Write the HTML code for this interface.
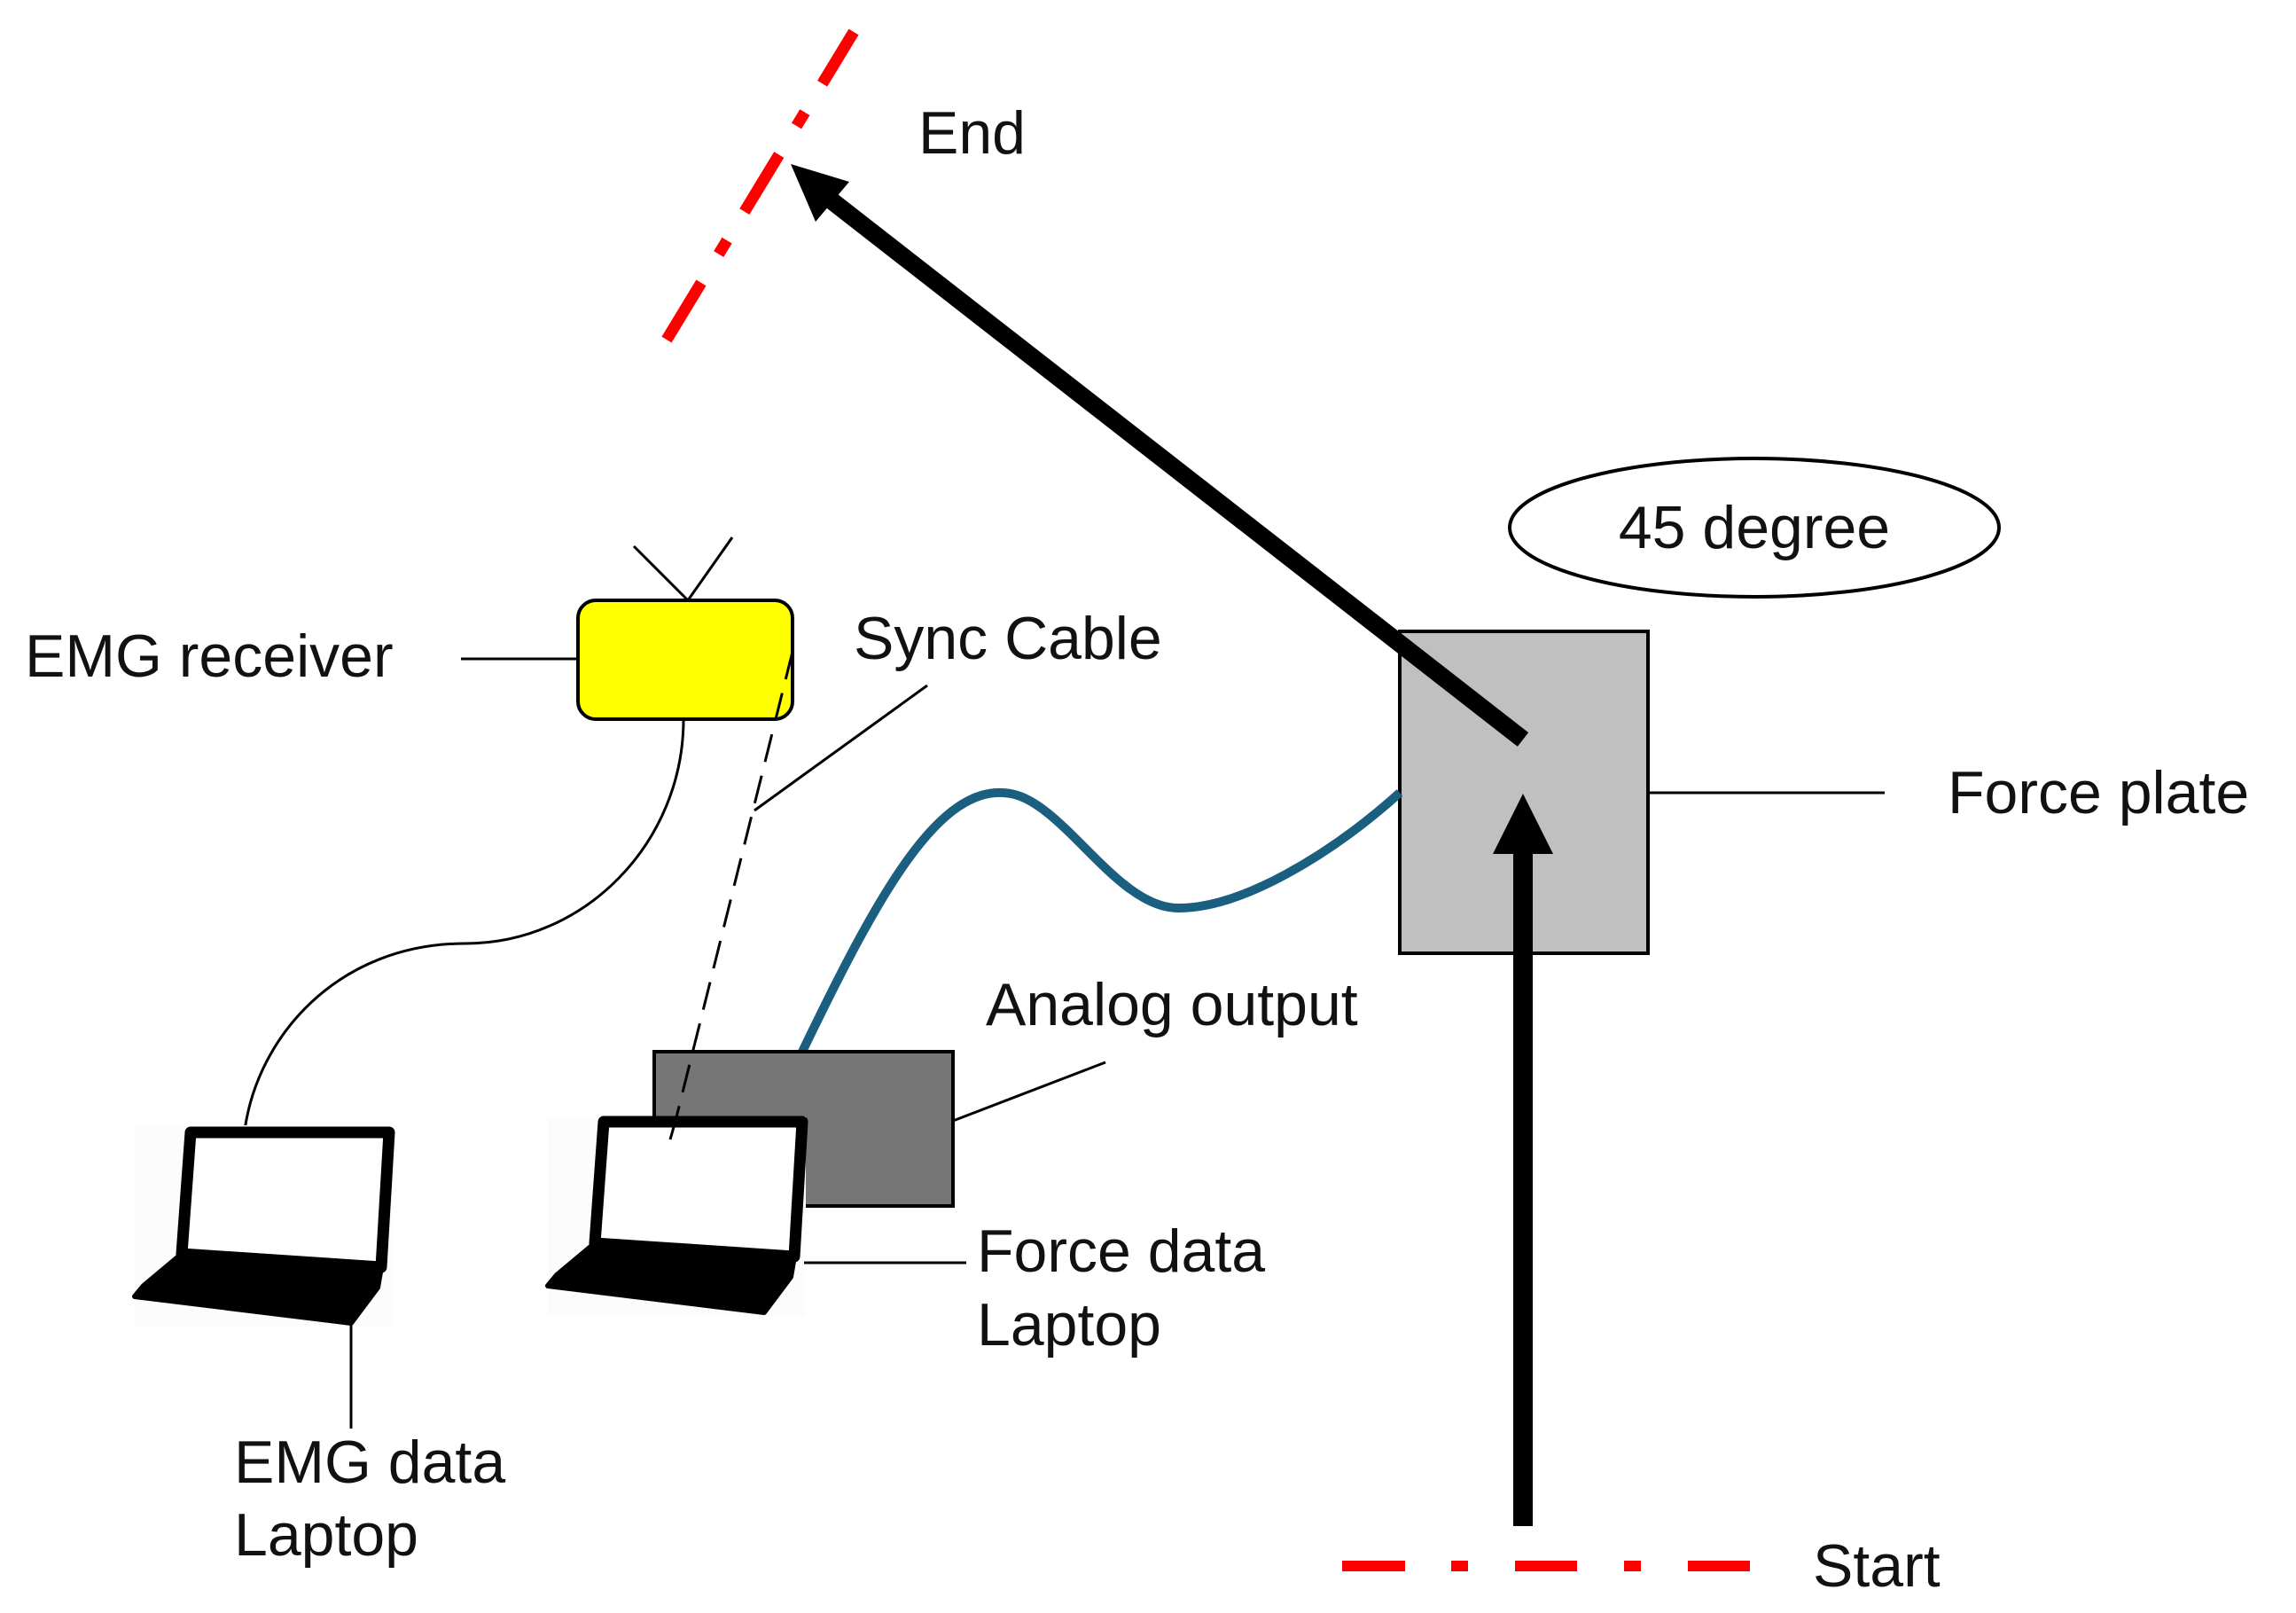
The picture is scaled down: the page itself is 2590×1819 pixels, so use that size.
<!DOCTYPE html>
<html><head><meta charset="utf-8"><style>
html,body{margin:0;padding:0;background:#fff;}
svg{display:block;}
text{font-family:"Liberation Sans","Noto Sans CJK JP",sans-serif;font-size:68px;fill:#111;}
</style></head><body>
<svg width="2590" height="1819" viewBox="0 0 2590 1819" xmlns="http://www.w3.org/2000/svg">
<!-- End dash-dot -->
<line x1="752" y1="383" x2="963" y2="36" stroke="#f00" stroke-width="13" stroke-dasharray="75 38 18 38"/>
<text x="1036" y="173">End</text>
<!-- ellipse -->
<ellipse cx="1979" cy="595" rx="276" ry="78" fill="#fff" stroke="#000" stroke-width="4"/>
<text x="1979" y="618" text-anchor="middle">45 degree</text>
<!-- force plate -->
<rect x="1579" y="712" width="280" height="363" fill="#c0c0c0" stroke="#000" stroke-width="4"/>
<line x1="1859" y1="894" x2="2126" y2="894" stroke="#000" stroke-width="3"/>
<text x="2197" y="917">Force plate</text>
<!-- diagonal arrow -->
<line x1="1718" y1="834" x2="930" y2="220" stroke="#000" stroke-width="20"/>
<polygon points="892,185 958,205 920,250" fill="#000"/>
<!-- up arrow -->
<rect x="1707" y="940" width="22" height="781" fill="#000"/>
<polygon points="1684,963 1752,963 1718,895" fill="#000"/>
<!-- start line -->
<g fill="#f00">
<rect x="1514" y="1760" width="71" height="12"/>
<rect x="1637" y="1760" width="19" height="12"/>
<rect x="1709" y="1760" width="70" height="12"/>
<rect x="1832" y="1760" width="19" height="12"/>
<rect x="1904" y="1760" width="70" height="12"/>
</g>
<text x="2045" y="1789">Start</text>
<!-- blue cable -->
<path d="M905 1186 C990 1010 1060 880 1140 895 C1200 905 1260 1025 1330 1024 C1400 1024 1500 965 1579 894" fill="none" stroke="#1a5e80" stroke-width="10"/>
<!-- analog box -->
<rect x="738" y="1186" width="337" height="174" fill="#767676" stroke="#000" stroke-width="4"/>
<line x1="1075" y1="1264" x2="1247" y2="1198" stroke="#000" stroke-width="3"/>
<text x="1112" y="1156">Analog output</text>
<!-- EMG receiver -->
<line x1="520" y1="743" x2="652" y2="743" stroke="#000" stroke-width="3"/>
<text x="28" y="763">EMG receiver</text>
<line x1="715" y1="616" x2="776" y2="677" stroke="#000" stroke-width="3"/>
<line x1="826" y1="606" x2="776" y2="677" stroke="#000" stroke-width="3"/>
<rect x="652" y="677" width="242" height="134" rx="20" fill="#ff0" stroke="#000" stroke-width="4"/>
<path d="M771 811 C771 950 660 1064 525 1064 C380 1064 290 1170 276 1275" fill="none" stroke="#000" stroke-width="3"/>
<!-- sync -->
<line x1="894" y1="735" x2="762" y2="1264" stroke="#000" stroke-width="3" stroke-dasharray="32 16"/>
<line x1="1046" y1="773" x2="851" y2="914" stroke="#000" stroke-width="3"/>
<text x="963" y="743">Sync Cable</text>
<!-- laptops -->
<g>
<rect x="152" y="1269" width="291" height="226" fill="#fcfcfc"/>
<polygon points="215,1277 439,1277 430,1429 205,1414" fill="#fff" stroke="#000" stroke-width="13" stroke-linejoin="round"/>
<polygon points="205,1414 430,1429 426,1452 396,1492 152,1462 162,1450" fill="#000" stroke="#000" stroke-width="6" stroke-linejoin="round"/>
</g>
<g transform="translate(466,-12)">
<rect x="152" y="1271" width="291" height="226" fill="#fcfcfc"/>
<polygon points="215,1277 439,1277 430,1429 205,1414" fill="#fff" stroke="#000" stroke-width="13" stroke-linejoin="round"/>
<polygon points="205,1414 430,1429 426,1452 396,1492 152,1462 162,1450" fill="#000" stroke="#000" stroke-width="6" stroke-linejoin="round"/>
</g>
<line x1="762" y1="1264" x2="756" y2="1285" stroke="#000" stroke-width="3"/>
<line x1="396" y1="1492" x2="396" y2="1611" stroke="#000" stroke-width="3"/>
<text x="264" y="1672">EMG data</text>
<text x="264" y="1754">Laptop</text>
<line x1="907" y1="1424" x2="1090" y2="1424" stroke="#000" stroke-width="3"/>
<text x="1102" y="1434">Force data</text>
<text x="1102" y="1517">Laptop</text>
</svg>
</body></html>
